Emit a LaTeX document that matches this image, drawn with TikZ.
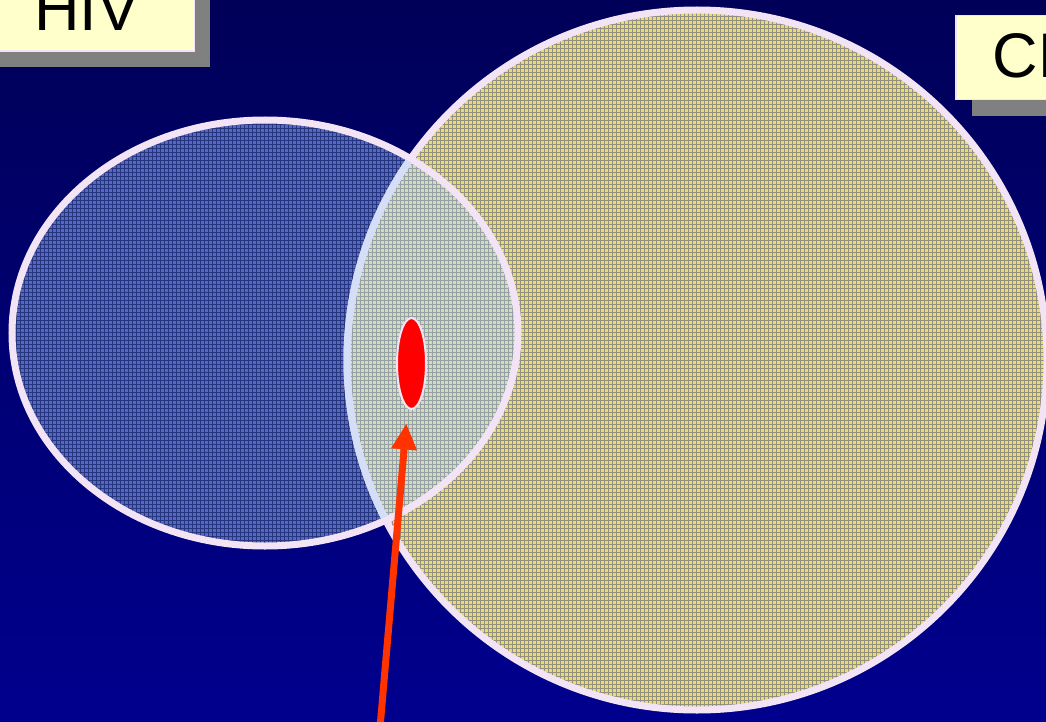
\documentclass[tikz,border=0pt]{standalone}
\usepackage{fontspec}
\setmainfont{Liberation Sans}
\usetikzlibrary{shapes.geometric,arrows.meta,shadows}
\definecolor{bgtop}{HTML}{000058}
\definecolor{bgbot}{HTML}{00008E}
\definecolor{yellowfill}{HTML}{E8DC6C}
\definecolor{yellowline}{HTML}{949080}
\definecolor{bluefill}{HTML}{5666C4}
\definecolor{blueline}{HTML}{26367E}
\definecolor{interfill}{HTML}{D2DCBC}
\definecolor{interline}{HTML}{94A0A4}
\definecolor{rimpink}{HTML}{F2E4F4}
\definecolor{rimblue}{HTML}{D4DEF6}
\definecolor{boxfill}{HTML}{FFFFCC}
\definecolor{shadowgray}{HTML}{808080}
\definecolor{arrowred}{HTML}{FF3300}
\tikzset{
  labelbox/.style={draw=rimpink, line width=1.5pt, fill=boxfill, inner sep=0pt,
    font=\fontsize{63}{70}\selectfont,
    drop shadow={shadow xshift=16pt, shadow yshift=-16pt, fill=shadowgray, opacity=1}},
  rim/.style={draw=rimpink, line width=7pt},
  mesh/.style={line width=0.45pt},
  arrowline/.style={draw=arrowred, line width=7pt, -{Triangle[width=24pt,length=26pt]}},
}
\begin{document}
\begin{tikzpicture}[x=1pt,y=-1pt]
\useasboundingbox (0,0) rectangle (1046,722);
\shade[top color=bgtop, bottom color=bgbot] (0,0) rectangle (1046,722);
% big circle (textured)
\begin{scope}
  \clip (697,360) circle[radius=350pt];
  \fill[yellowfill] (340,5) rectangle (1050,715);
  \draw[mesh, yellowline, step=4pt] (340,5) grid (1050,715);
\end{scope}
% ellipse (textured)
\begin{scope}
  \clip (265,333) ellipse[x radius=253pt, y radius=213pt];
  \fill[bluefill] (8,116) rectangle (522,550);
  \draw[mesh, blueline, step=4pt] (8,116) grid (522,550);
  \clip (697,360) circle[radius=350pt];
  \fill[interfill] (8,116) rectangle (522,550);
  \draw[mesh, interline, step=4pt] (8,116) grid (522,550);
\end{scope}
% outlines
\draw[rim] (265,333) ellipse[x radius=253pt, y radius=213pt];
\draw[rim] (697,360) circle[radius=350pt];
\begin{scope}
  \clip (265,333) ellipse[x radius=250pt, y radius=210pt];
  \draw[rim, draw=rimblue] (697,360) circle[radius=350pt];
\end{scope}
% labels
\node[labelbox, anchor=south east, minimum width=215pt, minimum height=92pt, text height=50pt, text depth=0pt] (hiv) at (195,52) {HIV};
\node[labelbox, anchor=north west, minimum height=84pt, text height=45pt, text depth=5pt, text width=200pt, inner xsep=37pt, align=left] (chc) at (955,15) {CHC};
% red ellipse
\node[ellipse, fill=red, draw=rimpink, line width=2pt, minimum width=29pt, minimum height=91pt, inner sep=0pt] (dot) at (411.5,363.5) {};
% arrow
\coordinate (tail) at (378.5,745);
\draw[arrowline, shorten >=15pt] (tail) -- (dot);
\end{tikzpicture}
\end{document}
